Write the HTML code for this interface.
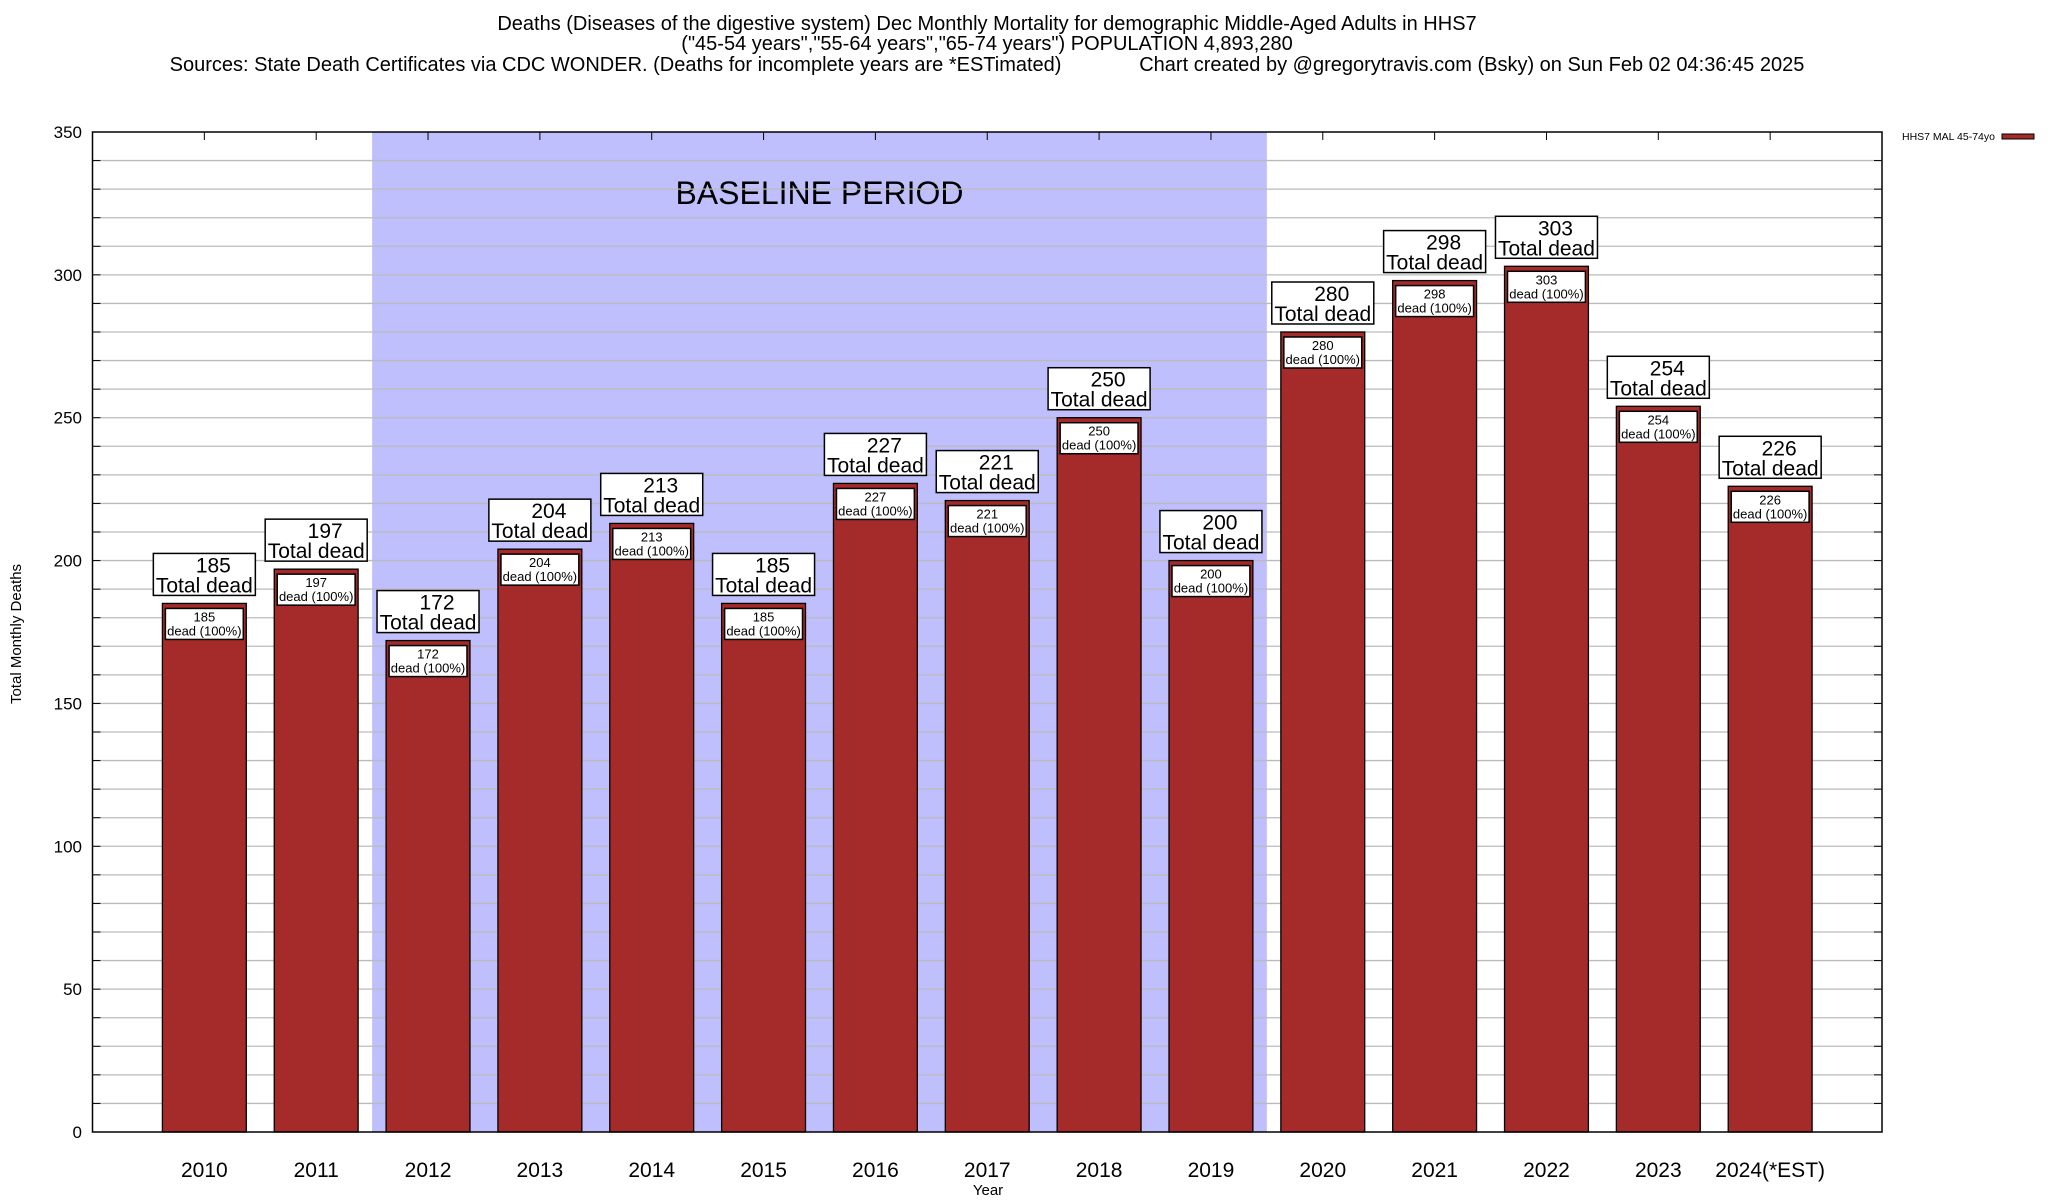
<!DOCTYPE html>
<html><head><meta charset="utf-8"><style>
body{margin:0;background:#fff;}
svg{display:block;font-family:"Liberation Sans",sans-serif;}
</style></head><body>
<svg id="chart" width="2048" height="1200" viewBox="0 0 2048 1200" xmlns="http://www.w3.org/2000/svg">
<g font-size="20" text-anchor="middle">
<text x="987" y="30">Deaths (Diseases of the digestive system) Dec Monthly Mortality for demographic Middle-Aged Adults in HHS7</text>
<text x="987" y="50">("45-54 years","55-64 years","65-74 years") POPULATION 4,893,280</text>
<text x="987" y="71" xml:space="preserve">Sources: State Death Certificates via CDC WONDER. (Deaths for incomplete years are *ESTimated)              Chart created by @gregorytravis.com (Bsky) on Sun Feb 02 04:36:45 2025</text>
</g>
<g id="plot"></g>
<text transform="translate(21,634) rotate(-90)" font-size="15" text-anchor="middle">Total Monthly Deaths</text>
<text x="988" y="1195" font-size="15" text-anchor="middle">Year</text>
<g>
<text x="1902" y="140" font-size="10.5">HHS7 MAL 45-74yo</text>
<rect x="2002" y="134" width="32" height="5" fill="#a52a2a" stroke="#000" stroke-width="1"/>
</g>
</svg>
<script>
const categories=["2010","2011","2012","2013","2014","2015","2016","2017","2018","2019","2020","2021","2022","2023","2024(*EST)"];
const deaths=[185,197,172,204,213,185,227,221,250,200,280,298,303,254,226];
const yTicks=[0,50,100,150,200,250,300,350];
const baselineRange=[2012,2019];
const L=92.5,R=1882,T=132,B=1132,yMax=350;
const slot=(R-L)/16;
function xs(i){return L+(i+1)*slot;}
function ys(v){return B-(v/yMax)*(B-T);}
const NS="http://www.w3.org/2000/svg";
const g=document.getElementById('plot');
function mk(tag,attrs,parent){const e=document.createElementNS(NS,tag);for(const k in attrs)e.setAttribute(k,attrs[k]);(parent||g).appendChild(e);return e;}
const bi0=categories.indexOf(String(baselineRange[0])),bi1=categories.indexOf(String(baselineRange[1]));
const sh=mk('rect',{x:xs(bi0)-slot/2,y:T,width:(bi1-bi0+1)*slot,height:B-T,fill:'#bfbffd'});


const st=mk('text',{x:(xs(bi0)+xs(bi1))/2,y:204,'font-size':32,'text-anchor':'middle'});
st.textContent='BASELINE PERIOD';


for(let v=10;v<yMax;v+=10){
 const y=ys(v);
 const ln=mk('line',{x1:L,x2:R,y1:y,y2:y,stroke:'#bbb','stroke-width':1.3});
 
 
 mk('line',{x1:L,x2:L+8,y1:y,y2:y,stroke:'#000','stroke-width':1});
 mk('line',{x1:R-8,x2:R,y1:y,y2:y,stroke:'#000','stroke-width':1});
}
yTicks.forEach(v=>{
 const t=mk('text',{x:82,y:ys(v)+6,'font-size':17,'text-anchor':'end'});
 t.textContent=v;
 
 
});
const bw=slot*0.75;
categories.forEach((c,i)=>{
 const cx=xs(i),v=deaths[i],y=ys(v);
 const bar=mk('rect',{x:cx-bw/2,y:y,width:bw,height:B-y,fill:'#a52a2a',stroke:'#000','stroke-width':1.3});
 
 
 const ib=mk('rect',{x:cx-bw/2+3,y:y+5,width:bw-6,height:31,fill:'#fff',stroke:'#000','stroke-width':1.5});
 
 
 const t1=mk('text',{x:cx,y:y+18,'font-size':13,'text-anchor':'middle'});t1.textContent=v;
 
 
 const t2=mk('text',{x:cx,y:y+32,'font-size':13,'text-anchor':'middle'});t2.textContent='dead (100%)';
 
 
 const ob=mk('rect',{x:cx-51,y:y-50,width:102,height:42,fill:'#fff',stroke:'#000','stroke-width':1.5});
 
 
 const t3=mk('text',{x:cx+9,y:y-31,'font-size':21,'text-anchor':'middle'});t3.textContent=v;
 
 
 const t4=mk('text',{x:cx,y:y-11,'font-size':21,'text-anchor':'middle'});t4.textContent='Total dead';
 
 
 const xl=mk('text',{x:cx,y:1177,'font-size':21,'text-anchor':'middle'});xl.textContent=c;
 
 
 mk('line',{x1:cx,x2:cx,y1:T,y2:T+8,stroke:'#000','stroke-width':1});
});
const fr=mk('rect',{x:L,y:T,width:R-L,height:B-T,fill:'none',stroke:'#000','stroke-width':1.5});


</script>
</body></html>
